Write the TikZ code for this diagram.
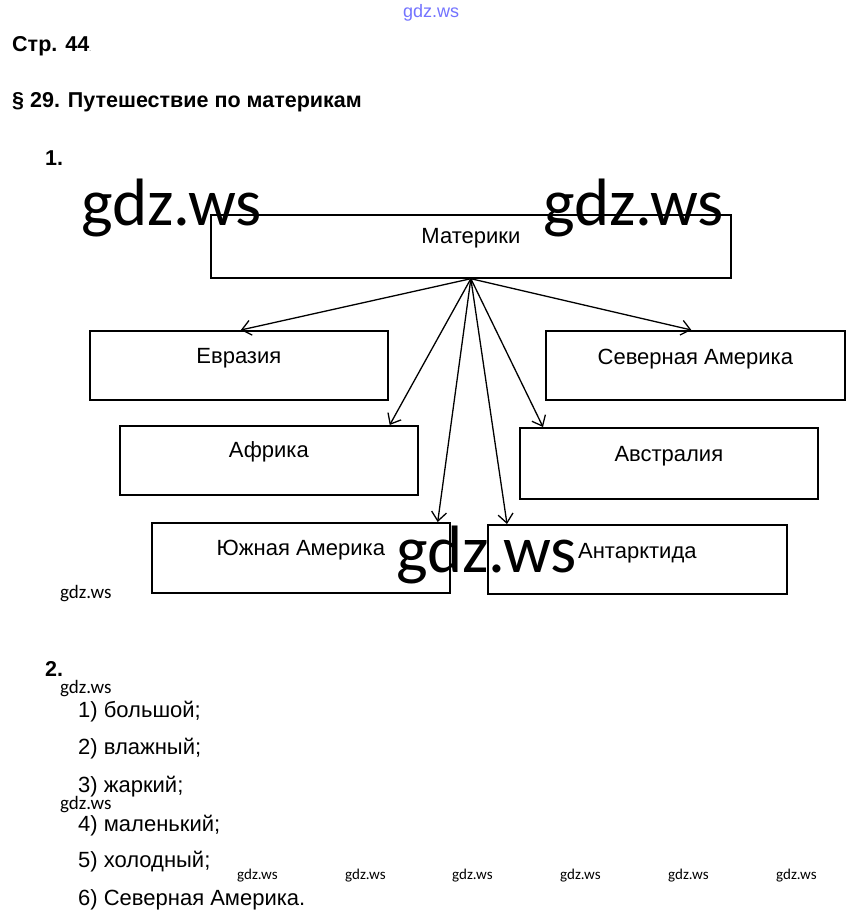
\documentclass[tikz,border=0pt]{standalone}
\usepackage{fontspec}
\setmainfont{Liberation Sans}
\newfontfamily\wmfont{Carlito}
\usetikzlibrary{arrows.meta}

\begin{document}
\begin{tikzpicture}[x=1pt,y=-1pt,
  >={Straight Barb[length=9pt,width=15pt]},
  box/.style={draw,rectangle,line width=1.7pt,inner ysep=0pt,minimum width=298pt,
    text height=33pt,text depth=36pt,font=\fontsize{22}{26}\selectfont},
  txt/.style={anchor=base west,inner sep=0pt,font=\fontsize{22}{26}\selectfont},
  hd/.style={anchor=base west,inner sep=0pt,font=\fontsize{21.5}{24}\selectfont\bfseries},
  wm/.style={anchor=base west,inner sep=0pt,font=\wmfont\fontsize{#1}{#1}\selectfont}]
\useasboundingbox[fill=white] (0,0) rectangle (860,923);

%\draw [blue!30] (0,0) grid[step=100] (860,923);
\node [anchor=base west,inner sep=0pt,text=blue!55,font=\fontsize{18}{18}\selectfont] (top) at(403,18){gdz.ws};

\node [hd] (page) at(12,52){Стр. 44{\fontsize{8}{8}\selectfont\mdseries\color{gray}.}};
\node [hd] (par) at(12,108){§ 29. Путешествие по материкам};
\node [hd] (n1) at(45,165){1.};

\node [box,anchor=north west,minimum width=520pt,text height=29pt,text depth=34pt] (m) at(210,214){Материки};

\node [box,anchor=north west] (eur) at(89,330){Евразия};
\node [box,anchor=north west,minimum width=299pt,text height=34pt,text depth=35pt] (nam) at(545,330){Северная Америка};
\node [box,anchor=north west,text height=32pt,text depth=37pt] (afr) at(119,425){Африка};
\node [box,anchor=north west,text height=34pt,text depth=37pt] (aus) at(519,427){Австралия};
\node [box,anchor=north west,text depth=37pt] (sam) at(151,522){Южная Америка};
\node [box,anchor=north west,minimum width=299pt,text height=34pt,text depth=35pt] (ant) at(487,524){Антарктида};

\draw[line width=1.3pt,->](m.south) -- ([xshift=2pt]eur.north);
\draw[line width=1.3pt,->](m.south) -- ([xshift=-4pt]nam.north);
\draw[line width=1.3pt,->](m.south) -- ([xshift=-29pt]afr.north east);
\draw[line width=1.3pt,->](m.south) -- ([xshift=24pt]aus.north west);
\draw[line width=1.3pt,->](m.south) -- ([xshift=-13pt]sam.north east);
\draw[line width=1.3pt,->](m.south) -- ([xshift=20pt]ant.north west);

\node [hd] (n2) at(45,676){2.};
\node [txt] (a1) at(78,717){1) большой;};
\node [txt] (a2) at(78,754){2) влажный;};
\node [txt] (a3) at(78,792){3) жаркий;};
\node [txt] (a4) at(78,831){4) маленький;};
\node [txt] (a5) at(78,867){5) холодный;};
\node [txt] (a6) at(78,905){6) Северная Америка.};

% watermarks
\node [wm=67] (w1) at(81,225){gdz.ws};
\node [wm=67] (w2) at(543,225){gdz.ws};
\node [wm=67] (w3) at(396,572){gdz.ws};
\node [wm=19] (w4) at(60,598){gdz.ws};
\node [wm=19] (w5) at(60,693){gdz.ws};
\node [wm=19] (w6) at(60,809){gdz.ws};
\node [wm=15] (w7) at(237,879){gdz.ws};
\node [wm=15] (w8) at(345,879){gdz.ws};
\node [wm=15] (w9) at(452,879){gdz.ws};
\node [wm=15] (w10) at(560,879){gdz.ws};
\node [wm=15] (w11) at(668,879){gdz.ws};
\node [wm=15] (w12) at(776,879){gdz.ws};

\end{tikzpicture}
\end{document}
